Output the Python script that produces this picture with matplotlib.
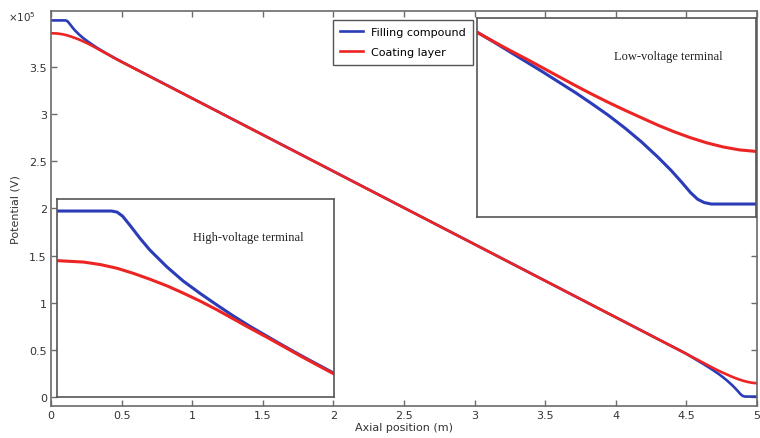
import numpy as np
import matplotlib
matplotlib.use('Agg')
import matplotlib.pyplot as plt

# Potential along the cable (units of 1e5 V)
# high-voltage end (x in m)
hv_x_fill = [0.0, 0.100, 0.110, 0.120, 0.134, 0.152, 0.170, 0.201, 0.231, 0.262, 0.293,
             0.323, 0.353, 0.384, 0.414, 0.445, 0.476, 0.506]
hv_v_fill = [4.0, 4.0, 3.997, 3.986, 3.960, 3.925, 3.893, 3.847, 3.808, 3.774, 3.742,
             3.712, 3.684, 3.657, 3.631, 3.605, 3.580, 3.556]
hv_x_coat = [0.0, 0.049, 0.080, 0.110, 0.140, 0.170, 0.201, 0.231, 0.262, 0.293, 0.323,
             0.353, 0.384, 0.414, 0.445, 0.476, 0.506]
hv_v_coat = [3.864, 3.860, 3.853, 3.843, 3.829, 3.813, 3.795, 3.775, 3.753, 3.729, 3.704,
             3.679, 3.654, 3.629, 3.603, 3.578, 3.554]

# low-voltage end
lv_x_fill = [4.491, 4.520, 4.550, 4.580, 4.610, 4.640, 4.670, 4.700, 4.730, 4.760, 4.790,
             4.820, 4.845, 4.865, 4.880, 4.893, 4.905, 4.918, 5.0]
lv_v_fill = [0.462, 0.437, 0.410, 0.383, 0.356, 0.328, 0.300, 0.270, 0.239, 0.205, 0.168,
             0.127, 0.090, 0.057, 0.031, 0.013, 0.004, 0.0, 0.0]
lv_x_coat = [4.491, 4.520, 4.550, 4.580, 4.610, 4.640, 4.670, 4.700, 4.730, 4.760, 4.790,
             4.820, 4.850, 4.880, 4.910, 4.940, 4.970, 5.0]
lv_v_coat = [0.462, 0.438, 0.414, 0.391, 0.367, 0.343, 0.319, 0.296, 0.274, 0.253, 0.233,
             0.213, 0.195, 0.179, 0.165, 0.154, 0.146, 0.142]

BLUE = '#2a3cb8'
RED = '#ec2424'
GRAY = '#6b6b6b'

x_fill = hv_x_fill + lv_x_fill
v_fill = hv_v_fill + lv_v_fill
x_coat = hv_x_coat + lv_x_coat
v_coat = hv_v_coat + lv_v_coat

fig = plt.figure(figsize=(7.6, 4.39), dpi=100)
ax = fig.add_axes([51/760, 1-407/439, 706/760, 395/439])

ax.plot(x_fill, v_fill, color=BLUE, lw=1.9, label='Filling compound', solid_joinstyle='round')
ax.plot(x_coat, v_coat, color=RED, lw=1.9, label='Coating layer', solid_joinstyle='round')
ax.set_xlim(0, 5)
ax.set_ylim(-0.1, 4.1)
ax.set_xticks(np.arange(0, 5.01, 0.5))
ax.set_xticklabels(['0', '0.5', '1', '1.5', '2', '2.5', '3', '3.5', '4', '4.5', '5'])
ax.set_yticks(np.arange(0, 3.51, 0.5))
ax.set_yticklabels(['0', '0.5', '1', '1.5', '2', '2.5', '3', '3.5'])
ax.tick_params(direction='in', length=4, width=1, color=GRAY, labelsize=8,
               labelcolor='#333333', top=True, right=True, pad=3)
for s in ax.spines.values():
    s.set_color(GRAY)
    s.set_linewidth(1.2)
ax.set_xlabel('Axial position (m)', fontsize=8, color='#333333', labelpad=1)
ax.set_ylabel('Potential (V)', fontsize=8, color='#333333', labelpad=6)
fig.text(8/760, 1-17/439, r'$\times$10$^5$', fontsize=7.5, color='#333333', va='center')

leg = ax.legend(loc='upper right', bbox_to_anchor=(479/760, 1-15/439),
                bbox_transform=fig.transFigure, fontsize=8, frameon=True,
                fancybox=False, framealpha=1, edgecolor='#555555',
                handlelength=2.0, borderpad=0.65, labelspacing=0.95)
leg.get_frame().set_linewidth(1.0)

# inset: high-voltage terminal
ins1 = fig.add_axes([57/760, 1-398/439, 277/760, 198/439])
ins1.plot(hv_x_fill, hv_v_fill, color=BLUE, lw=2.2, solid_joinstyle='round')
ins1.plot(hv_x_coat, hv_v_coat, color=RED, lw=2.2, solid_joinstyle='round')
ins1.set_xlim(0, 0.507)
ins1.set_ylim(3.49, 4.033)
ins1.text(0.69, 0.81, 'High-voltage terminal', transform=ins1.transAxes,
          ha='center', va='center', fontsize=9, family='Liberation Serif', color='#222222')

# inset: low-voltage terminal
ins2 = fig.add_axes([477/760, 1-218/439, 279/760, 199/439])
ins2.plot(lv_x_fill, lv_v_fill, color=BLUE, lw=2.2, solid_joinstyle='round')
ins2.plot(lv_x_coat, lv_v_coat, color=RED, lw=2.2, solid_joinstyle='round')
ins2.set_xlim(4.489, 5.0)
ins2.set_ylim(-0.035, 0.502)
ins2.text(0.685, 0.81, 'Low-voltage terminal', transform=ins2.transAxes,
          ha='center', va='center', fontsize=9, family='Liberation Serif', color='#222222')

for a in (ins1, ins2):
    a.set_xticks([])
    a.set_yticks([])
    for s in a.spines.values():
        s.set_color('#555555')
        s.set_linewidth(1.2)

fig.savefig('out.png', dpi=100)
